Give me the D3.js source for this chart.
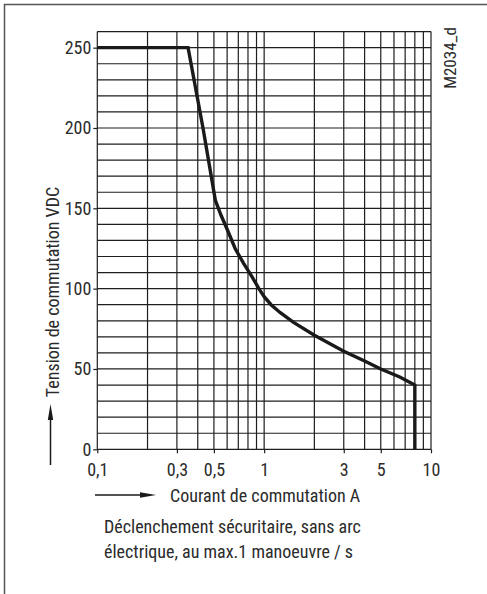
<!DOCTYPE html>
<html>
<head>
<meta charset="utf-8">
<script src="https://cdn.jsdelivr.net/npm/d3@7"></script>
<style>
  body { margin: 0; background: #fff; }
  text { font-family: "Liberation Sans Narrow", "Roboto Condensed", "DejaVu Sans Condensed", sans-serif; fill: #2b2b2b; }
</style>
</head>
<body>
<div id="container"></div>
<script>
// curve: current (A) and voltage (VDC)
var courant = [0.1, 0.35, 0.43, 0.51, 0.55, 0.6, 0.67, 0.75, 0.85, 0.93, 1.0, 1.1, 1.25, 1.5, 2, 3, 4, 5, 6.5, 8, 8];
var tension = [250, 250, 200, 155, 146, 137, 125, 116, 107, 100, 95, 90, 85, 79, 71, 61, 55, 50, 45, 40, 0];

var xTicks = [0.1, 0.3, 0.5, 1, 3, 5, 10];
var xTickLabels = ["0,1", "0,3", "0,5", "1", "3", "5", "10"];
var yTicks = [0, 50, 100, 150, 200, 250];
var xGrid = [0.1, 0.2, 0.3, 0.4, 0.5, 0.6, 0.7, 0.8, 0.9, 1, 2, 3, 4, 5, 6, 7, 8, 9, 10];
var yGrid = d3.range(0, 261, 10);

var w = 487, h = 594;
var svg = d3.select("#container").append("svg")
    .attr("width", w).attr("height", h);

// outer frame
svg.append("path")
   .attr("d", "M4.5," + (h + 5) + "V4.5H" + (w + 5))
   .attr("fill", "none").attr("stroke", "#555").attr("stroke-width", 1.5);

var x = d3.scaleLog().domain([0.1, 10]).range([97.3, 431]);
var y = d3.scaleLinear().domain([0, 260]).range([449.3, 31.6]);

var grid = svg.append("g").attr("stroke", "#1e1e1e").attr("stroke-width", 1.2);
grid.selectAll(".v").data(xGrid).enter().append("line")
    .attr("x1", function(d) { return x(d); }).attr("x2", function(d) { return x(d); })
    .attr("y1", y(0)).attr("y2", y(260));
grid.selectAll(".h").data(yGrid).enter().append("line")
    .attr("x1", x(0.1)).attr("x2", x(10))
    .attr("y1", function(d) { return y(d); }).attr("y2", function(d) { return y(d); });

// axes
var xAxis = d3.axisBottom(x).tickValues(xTicks)
    .tickFormat(function(d, i) { return xTickLabels[i]; })
    .tickSize(4).tickPadding(10);
var gx = svg.append("g").attr("transform", "translate(0," + y(0) + ")").call(xAxis);
gx.select(".domain").remove();
gx.selectAll("line").attr("stroke", "#1e1e1e").attr("stroke-width", 1.2);
gx.selectAll("text").attr("font-size", 18).attr("fill", "#2b2b2b");

var yAxis = d3.axisLeft(y).tickValues(yTicks).tickSize(4).tickPadding(2);
var gy = svg.append("g").attr("transform", "translate(" + x(0.1) + ",0)").call(yAxis);
gy.select(".domain").remove();
gy.selectAll("line").attr("stroke", "#1e1e1e").attr("stroke-width", 1.2);
gy.selectAll("text").attr("font-size", 18).attr("fill", "#2b2b2b");
svg.selectAll(".tick text").attr("font-family", null);

// the curve
var line = d3.line()
    .x(function(d, i) { return x(courant[i]); })
    .y(function(d, i) { return y(tension[i]); });
svg.append("path")
   .datum(courant)
   .attr("d", line)
   .attr("fill", "none").attr("stroke", "#1a1a1a")
   .attr("stroke-width", 3.4).attr("stroke-linejoin", "miter");

// labels
svg.append("text")
   .attr("transform", "translate(59,292) rotate(-90)")
   .attr("text-anchor", "middle").attr("font-size", 18)
   .text("Tension de commutation VDC");

svg.append("text")
   .attr("transform", "translate(456,58) rotate(-90)")
   .attr("text-anchor", "middle").attr("font-size", 17)
   .text("M2034_d");

svg.append("text")
   .attr("x", 170).attr("y", 502).attr("font-size", 18)
   .text("Courant de commutation A");

svg.append("text")
   .attr("x", 104).attr("y", 533).attr("font-size", 18)
   .text("Déclenchement sécuritaire, sans arc");
svg.append("text")
   .attr("x", 104).attr("y", 558).attr("font-size", 18)
   .text("électrique, au max.1 manoeuvre / s");

// arrows
svg.append("line").attr("x1", 95).attr("x2", 145).attr("y1", 495).attr("y2", 495)
   .attr("stroke", "#1a1a1a").attr("stroke-width", 1.5);
svg.append("path").attr("d", "M140,492.3L156,495L140,497.7Z").attr("fill", "#1a1a1a");
svg.append("line").attr("x1", 50.5).attr("x2", 50.5).attr("y1", 465).attr("y2", 415)
   .attr("stroke", "#1a1a1a").attr("stroke-width", 1.5);
svg.append("path").attr("d", "M47.8,420L50.5,404L53.2,420Z").attr("fill", "#1a1a1a");
</script>
</body>
</html>
